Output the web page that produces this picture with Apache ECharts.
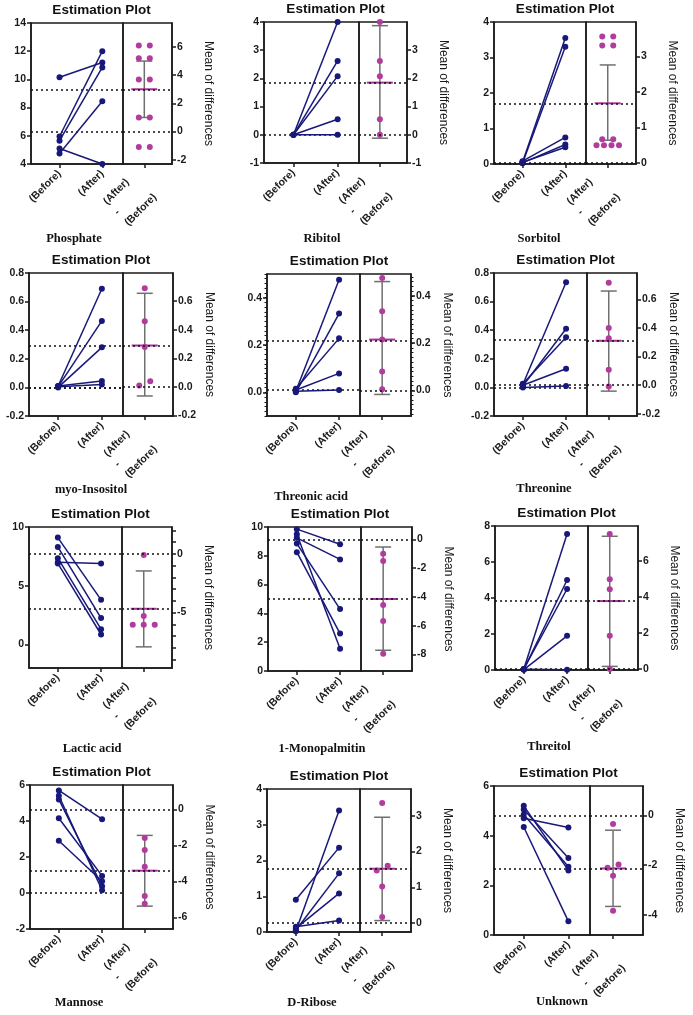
<!DOCTYPE html>
<html><head><meta charset="utf-8">
<script src="https://cdn.jsdelivr.net/npm/echarts@6/dist/echarts.min.js"></script>
<style>html,body{margin:0;padding:0;background:#fff}#c{width:693px;height:1015px}</style>
</head><body><div id="c"></div><script>
// ---------- data ----------
const names = ["Phosphate","Ribitol","Sorbitol","myo-Insositol","Threonic acid","Threonine",
  "Lactic acid","1-Monopalmitin","Threitol","Mannose","D-Ribose","Unknown"];
const before = [
  [10.15,5.95,5.65,4.75,5.1],[0,0,0,0,0],[0.05,0.02,0.08,0.03,0.05],[0.01,0.005,0.0,0.01,0.005],
  [0.005,0.0,0.015,0.01,0.005],[0.02,0.01,0.025,0.015,0.0],[9.1,8.3,7.35,7.0,6.9],[9.85,9.25,8.85,8.25,9.5],
  [0.05,0.03,0.06,0.02,0.04],[5.7,2.9,4.15,5.2,5.4],[0.02,0.9,0.05,0.1,0.15],[4.7,5.05,4.85,5.2,4.35]];
const after = [
  [11.2,12.0,10.85,8.45,4.0],[4.0,2.62,2.08,0.55,0.0],[3.55,3.3,0.75,0.55,0.47],[0.69,0.465,0.28,0.045,0.02],
  [0.476,0.333,0.228,0.08,0.01],[0.735,0.41,0.35,0.13,0.01],[3.8,2.25,1.3,6.9,0.85],[8.8,7.75,4.3,2.6,1.55],
  [7.55,5.0,4.5,1.9,0.02],[4.1,0.65,0.95,0.38,0.15],[3.4,2.36,1.64,1.08,0.32],[4.33,3.1,2.75,2.6,0.55]];
const diffs = [
  [6.1,6.1,5.2,5.2,3.7,3.7,1.0,1.0,-1.1,-1.1],[4.0,2.62,2.08,0.55,0.0],
  [3.56,3.56,3.31,3.31,0.67,0.67,0.5,0.5,0.5,0.5],[0.69,0.46,0.28,0.04,0.01],
  [0.475,0.335,0.215,0.08,0.005],[0.716,0.40,0.328,0.107,-0.01],[-0.1,-5.3,-6.04,-6.04,-6.04],
  [-1.0,-1.5,-4.56,-5.67,-7.94],[7.51,4.99,4.43,1.85,0.0],[-1.6,-2.26,-3.19,-4.82,-5.25],
  [3.36,1.6,1.47,1.02,0.17],[-0.34,-1.97,-2.1,-2.42,-3.83]];
const meanDiff = [3.0,1.85,1.68,0.29,0.215,0.31,-4.68,-4.14,3.78,-3.41,1.52,-2.13];
const ciLow  = [1.0,-0.12,0.64,-0.063,-0.017,-0.042,-7.92,-7.7,0.15,-5.38,0.07,-3.66];
const ciHigh = [5.0,3.87,2.76,0.655,0.46,0.658,-1.46,-0.53,7.38,-1.45,2.96,-0.59];
const meanBefore = [6.3,0,0.03,0.003,0.008,0.016,7.72,9.14,0.05,4.65,0.25,4.81];
const zeroLine = [false,false,false,true,false,true,false,false,false,true,false,false];
const leftMin = [4,-1,0,-0.2,-0.1,-0.2,-2,0,0,-2,0,0];
const leftMax = [14,4,4,0.8,0.5,0.8,10,10,8,6,4,6];
const leftTicks = [[4,6,8,10,12,14],[-1,0,1,2,3,4],[0,1,2,3,4],[-0.2,0,0.2,0.4,0.6,0.8],[0,0.2,0.4],
  [-0.2,0,0.2,0.4,0.6,0.8],[0,5,10],[0,2,4,6,8,10],[0,2,4,6,8],[-2,0,2,4,6],[0,1,2,3,4],[0,2,4,6]];
const rightTicks = [[-2,0,2,4,6],[-1,0,1,2,3],[0,1,2,3],[-0.2,0,0.2,0.4,0.6],[0,0.2,0.4],
  [-0.2,0,0.2,0.4,0.6],[-5,0],[-8,-6,-4,-2,0],[0,2,4,6],[-6,-4,-2,0],[0,1,2,3],[-4,-2,0]];
const leftMinorStep  = [0,0,0,0,0.02,0,0,0,0,0,0,0];
const rightMinorStep = [0,0,0,0,0.02,0,1,0,0,0,0,0];
const xCats = ["(Before)","(After)"];
const diffLabel = ["(After)","-","(Before)"];

// ---------- layout (pixels) ----------
const layout = [
  {lx:31,sx:123,rx:172,top:23,bottom:164,nx:74,ny:239},
  {lx:264,sx:359,rx:407,top:22,bottom:163,nx:322,ny:239},
  {lx:494,sx:586,rx:636,top:22,bottom:164,nx:539,ny:239},
  {lx:29,sx:123,rx:173,top:273,bottom:416,nx:91,ny:490},
  {lx:267,sx:360,rx:411,top:274,bottom:416,nx:311,ny:497},
  {lx:494,sx:587,rx:637,top:273,bottom:416,nx:544,ny:489},
  {lx:29,sx:122,rx:172,top:527,bottom:668,nx:92,ny:749},
  {lx:268,sx:361,rx:412,top:527,bottom:671,nx:322,ny:749},
  {lx:495,sx:588,rx:638,top:526,bottom:670,nx:549,ny:747},
  {lx:30,sx:123,rx:173,top:785,bottom:929,nx:79,ny:1003},
  {lx:267,sx:360,rx:411,top:789,bottom:932,nx:312,ny:1003},
  {lx:494,sx:590,rx:643,top:786,bottom:935,nx:562,ny:1002}];

const NAVY='#18187a', PINK='#b23c9e', PINK2='#a8329c', GRAY='#6f6f6f', AX='#1a1a1a';
const SANS="'Liberation Sans', Arial, sans-serif";
const SERIF="'Liberation Serif', 'Times New Roman', serif";

function decimals(ticks){return Math.max(...ticks.map(t=>{const s=String(t);return s.indexOf('.')>=0?s.split('.')[1].length:0;}));}
function minorVals(min,max,step){const out=[];for(let v=Math.ceil(min/step-1e-9)*step;v<=max+1e-9;v+=step)out.push(+v.toFixed(6));return out;}
function swarm(vals,ppu){
  const idx=vals.map((v,i)=>i).sort((a,b)=>vals[a]-vals[b]);
  const groups=[];let cur=[idx[0]];
  for(let k=1;k<idx.length;k++){
    if((vals[idx[k]]-vals[idx[k-1]])*ppu<5.5)cur.push(idx[k]);else{groups.push(cur);cur=[idx[k]];}
  }
  groups.push(cur);
  const off=new Array(vals.length).fill(0);
  groups.forEach(g=>{const n=g.length,s=n>=4?7.5:11;g.forEach((id,j)=>off[id]=(j-(n-1)/2)*s);});
  return off;
}

const grids=[],xAxes=[],yAxes=[],series=[],graphics=[];
const axisLineStyle={show:true,onZero:false,lineStyle:{color:AX,width:1.5}};
const labelBase={color:'#1a1a1a',fontFamily:SANS,fontWeight:'bold',fontSize:10.5};

names.forEach((nm,i)=>{
  const L=layout[i];
  const h=L.bottom-L.top;
  const gL=grids.length;
  grids.push({left:L.lx,top:L.top,width:L.sx-L.lx,height:h,show:true,borderColor:AX,borderWidth:1.5,containLabel:false});
  const gR=grids.length;
  grids.push({left:L.sx,top:L.top,width:L.rx-L.sx,height:h,show:true,borderColor:AX,borderWidth:1.5,containLabel:false});

  const xL=xAxes.length;
  xAxes.push({type:'value',gridIndex:gL,position:'bottom',min:-0.667,max:1.484,axisLine:axisLineStyle,splitLine:{show:false},
    axisTick:{show:true,customValues:[0,1],length:4,lineStyle:{color:AX,width:1.5}},
    axisLabel:Object.assign({},labelBase,{customValues:[0,1],rotate:45,margin:8,formatter:v=>xCats[Math.round(v)]})});
  const xR=xAxes.length;
  xAxes.push({type:'value',gridIndex:gR,position:'bottom',min:-1,max:1.3,axisLine:axisLineStyle,splitLine:{show:false},
    axisTick:{show:true,customValues:[0],length:4,lineStyle:{color:AX,width:1.5}},
    axisLabel:{customValues:[0],rotate:45,margin:21,
      formatter:()=>diffLabel.map(s=>'{a|'+s+'}').join('\n'),
      rich:{a:{align:'left',fontFamily:SANS,fontWeight:'bold',fontSize:10.5,lineHeight:15,color:'#1a1a1a'}}}});

  const dL=decimals(leftTicks[i]);
  const yL=yAxes.length;
  yAxes.push({type:'value',gridIndex:gL,position:'left',min:leftMin[i],max:leftMax[i],axisLine:axisLineStyle,splitLine:{show:false},
    axisTick:{show:true,customValues:leftTicks[i],length:4,lineStyle:{color:AX,width:1.5}},
    axisLabel:Object.assign({},labelBase,{customValues:leftTicks[i],margin:5,formatter:v=>Number(v).toFixed(dL)})});
  const rMin=leftMin[i]-meanBefore[i], rMax=leftMax[i]-meanBefore[i];
  const dR=decimals(rightTicks[i]);
  const yR=yAxes.length;
  yAxes.push({type:'value',gridIndex:gR,position:'right',min:rMin,max:rMax,axisLine:axisLineStyle,splitLine:{show:false},
    axisTick:{show:true,customValues:rightTicks[i],length:4,lineStyle:{color:AX,width:1.5}},
    axisLabel:Object.assign({},labelBase,{customValues:rightTicks[i],margin:5,formatter:v=>Number(v).toFixed(dR)}),
    name:'Mean of differences',nameLocation:'middle',nameRotate:-90,nameGap:30,
    nameTextStyle:{fontFamily:SANS,fontSize:12,color:'#1a1a1a'}});
  if(leftMinorStep[i]){
    yAxes.push({type:'value',gridIndex:gL,position:'left',min:leftMin[i],max:leftMax[i],axisLine:{show:false,onZero:false},splitLine:{show:false},
      axisTick:{show:true,customValues:minorVals(leftMin[i],leftMax[i],leftMinorStep[i]),length:2.5,lineStyle:{color:AX,width:1}},
      axisLabel:{show:false}});
  }
  if(rightMinorStep[i]){
    yAxes.push({type:'value',gridIndex:gR,position:'right',min:rMin,max:rMax,axisLine:{show:false,onZero:false},splitLine:{show:false},
      axisTick:{show:true,customValues:minorVals(rMin,rMax,rightMinorStep[i]),length:rightMinorStep[i]>=1?4:2.5,lineStyle:{color:AX,width:rightMinorStep[i]>=1?1.5:1}},
      axisLabel:{show:false}});
  }

  const dotted={type:[2,3],color:'#111',width:1.5};
  const leftMarks=[{yAxis:meanBefore[i]},{yAxis:meanBefore[i]+meanDiff[i]}];
  if(zeroLine[i])leftMarks.push({yAxis:0});
  before[i].forEach((b,k)=>{
    const s={type:'line',xAxisIndex:xL,yAxisIndex:yL,data:[[0,b],[1,after[i][k]]],symbol:'circle',symbolSize:6,
      itemStyle:{color:NAVY},lineStyle:{color:NAVY,width:1.5},silent:true,z:3};
    if(k===0)s.markLine={silent:true,symbol:['none','none'],label:{show:false},lineStyle:dotted,data:leftMarks,animation:false,z:2};
    series.push(s);
  });

  const ppu=h/(leftMax[i]-leftMin[i]);
  const off=swarm(diffs[i],ppu);
  series.push({type:'custom',xAxisIndex:xR,yAxisIndex:yR,data:[[0,meanDiff[i],ciLow[i],ciHigh[i]]],z:2,silent:true,
    renderItem:(p,api)=>{
      const c=api.coord([0,api.value(1)]),lo=api.coord([0,api.value(2)]),hi=api.coord([0,api.value(3)]);
      const gs={stroke:GRAY,lineWidth:1.5};
      return {type:'group',children:[
        {type:'line',shape:{x1:c[0],y1:hi[1],x2:c[0],y2:lo[1]},style:gs},
        {type:'line',shape:{x1:c[0]-8,y1:hi[1],x2:c[0]+8,y2:hi[1]},style:gs},
        {type:'line',shape:{x1:c[0]-8,y1:lo[1],x2:c[0]+8,y2:lo[1]},style:gs},
        {type:'line',shape:{x1:c[0]-13,y1:c[1],x2:c[0]+13,y2:c[1]},style:{stroke:PINK2,lineWidth:2}}]};
    }});
  series.push({type:'scatter',xAxisIndex:xR,yAxisIndex:yR,symbolSize:6,itemStyle:{color:PINK,opacity:1},z:4,silent:true,
    data:diffs[i].map((d,k)=>({value:[0,d],symbolOffset:[off[k],0]})),
    markLine:{silent:true,symbol:['none','none'],label:{show:false},lineStyle:dotted,animation:false,
      data:[{yAxis:0},{yAxis:meanDiff[i]}]}});

  graphics.push({type:'text',x:(L.lx+L.rx)/2,y:L.top-13,silent:true,
    style:{text:'Estimation Plot',textAlign:'center',textVerticalAlign:'middle',verticalAlign:'middle',
      font:'bold 13.5px '+SANS,fill:'#111'}});
  graphics.push({type:'text',x:L.nx,y:L.ny,silent:true,
    style:{text:nm,textAlign:'center',textVerticalAlign:'middle',verticalAlign:'middle',
      font:'bold 12.5px '+SERIF,fill:'#111'}});
});

const chart=echarts.init(document.getElementById('c'),null,{renderer:'canvas'});
chart.setOption({animation:false,backgroundColor:'#fff',grid:grids,xAxis:xAxes,yAxis:yAxes,series:series,graphic:graphics});
</script></body></html>
